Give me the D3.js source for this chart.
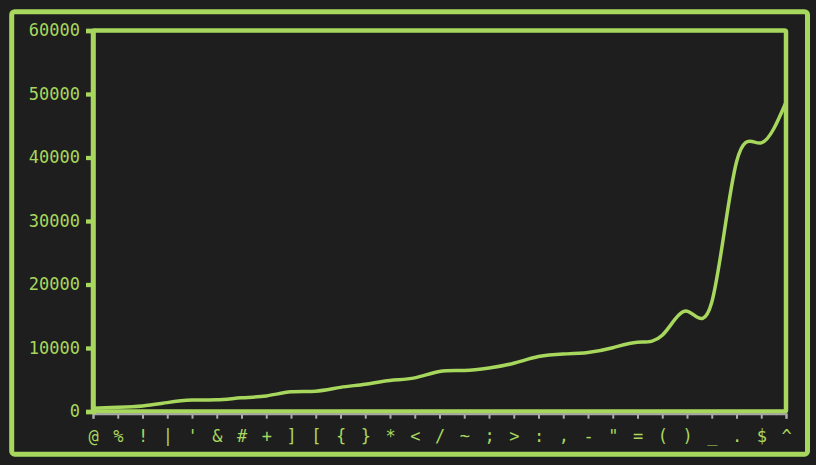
<!DOCTYPE html>
<html>
<head>
<meta charset="utf-8">
<script src="https://cdn.jsdelivr.net/npm/d3@7"></script>
<style>
  html, body { margin: 0; padding: 0; background: #1e1e1e; }
  svg { display: block; }
</style>
</head>
<body>
<svg id="chart" width="816" height="465"></svg>
<script>
const categories = ["@", "%", "!", "|", "'", "&", "#", "+", "]", "[", "{", "}", "*", "<", "/", "~", ";", ">", ":", ",", "-", "\"", "=", "(", ")", "_", ".", "$", "^"];
const values = [500, 650, 870, 1400, 1800, 1850, 2150, 2450, 3100, 3200, 3800, 4300, 4900, 5300, 6300, 6450, 6850, 7600, 8650, 9050, 9300, 10050, 10900, 12000, 15800, 17200, 39300, 42300, 48700];
const yTicks = [0, 10000, 20000, 30000, 40000, 50000, 60000];

(function () {
const green = "#a8d75d";
const font = "'DejaVu Sans Mono', monospace";
const svg = d3.select("#chart");
const W = 816, H = 465;
const mLeft = 93, mRight = 786, mTop = 30.5, mBottom = 411.5;

svg.append("rect").attr("width", W).attr("height", H).attr("fill", "#1e1e1e");

// outer frame
svg.append("rect")
  .attr("x", 11.7).attr("y", 11.7)
  .attr("width", 807.5 - 11.7).attr("height", 454.2 - 11.7)
  .attr("rx", 3)
  .attr("fill", "none").attr("stroke", green).attr("stroke-width", 5);

const x = d3.scalePoint().domain(categories).range([mLeft, mRight]);
const y = d3.scaleLinear().domain([0, 60000]).range([mBottom, mTop]);

const line = d3.line()
  .x((d, i) => x(categories[i]))
  .y(d => y(d))
  .curve(d3.curveNatural);

svg.append("path")
  .datum(values)
  .attr("d", line)
  .attr("fill", "none")
  .attr("stroke", green)
  .attr("stroke-width", 3.5)
  .attr("stroke-linejoin", "round");

// plot frame
svg.append("rect")
  .attr("x", mLeft).attr("y", mTop)
  .attr("width", mRight - mLeft).attr("height", mBottom - mTop)
  .attr("rx", 1.5)
  .attr("fill", "none").attr("stroke", green).attr("stroke-width", 4.5);

// x axis
const gx = svg.append("g")
  .attr("transform", `translate(0,${mBottom + 2.2})`)
  .call(d3.axisBottom(x).tickSize(5).tickPadding(11));
gx.select(".domain").attr("stroke", "#a9a9a9").attr("stroke-width", 2);
gx.selectAll(".tick line").attr("stroke", "#a9a9a9").attr("stroke-width", 2);
gx.selectAll(".tick text")
  .attr("fill", green)
  .attr("font-family", font)
  .attr("font-size", 17);

// y axis
const gy = svg.append("g")
  .attr("transform", `translate(${mLeft},0)`)
  .call(d3.axisLeft(y).tickValues(yTicks).tickFormat(d3.format("d")).tickSize(7).tickPadding(6));
gy.select(".domain").attr("stroke", green).attr("stroke-width", 4.5);
gy.selectAll(".tick line").attr("stroke", green).attr("stroke-width", 4.3);
gy.selectAll(".tick text")
  .attr("fill", green)
  .attr("font-family", font)
  .attr("font-size", 17);
})();
</script>
</body>
</html>
